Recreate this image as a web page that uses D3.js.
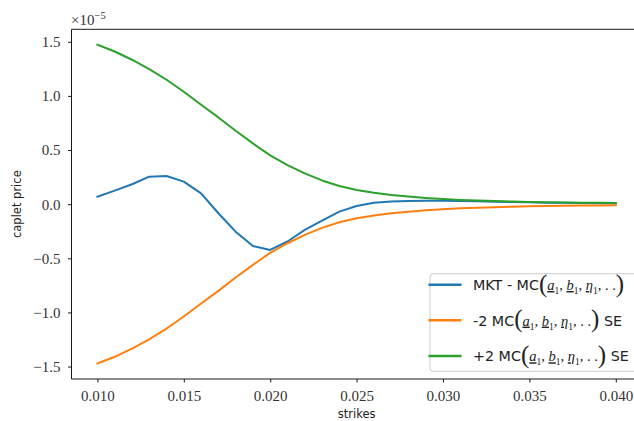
<!DOCTYPE html>
<html>
<head>
<meta charset="utf-8">
<script src="https://cdn.jsdelivr.net/npm/d3@7"></script>
<style>
  body { margin: 0; background: #fff; }
  svg { display: block; }
</style>
</head>
<body>
<div id="chart"></div>
<script>
"use strict";

// strikes (x) and caplet price series, in units of 1e-5
const strikes = [0.010, 0.011, 0.012, 0.013, 0.014, 0.015, 0.016, 0.017, 0.018, 0.019,
                 0.020, 0.021, 0.022, 0.023, 0.024, 0.025, 0.026, 0.027, 0.028, 0.029,
                 0.030, 0.031, 0.032, 0.033, 0.034, 0.035, 0.036, 0.037, 0.038, 0.039, 0.040];

const mktMinusMc = [0.069, 0.125, 0.184, 0.254, 0.260, 0.208, 0.100, -0.084, -0.254, -0.386,
                    -0.423, -0.345, -0.238, -0.152, -0.069, -0.017, 0.012, 0.025, 0.030, 0.032,
                    0.031, 0.029, 0.026, 0.023, 0.020, 0.017, 0.014, 0.012, 0.010, 0.009, 0.008];

const minus2Se = [-1.472, -1.410, -1.334, -1.248, -1.149, -1.038, -0.918, -0.801, -0.678, -0.561,
                  -0.450, -0.361, -0.284, -0.219, -0.167, -0.131, -0.105, -0.085, -0.070, -0.057,
                  -0.047, -0.039, -0.033, -0.028, -0.024, -0.020, -0.017, -0.015, -0.013, -0.012, -0.011];

const plus2Se = [1.472, 1.410, 1.334, 1.248, 1.149, 1.038, 0.918, 0.801, 0.678, 0.561,
                 0.450, 0.361, 0.284, 0.219, 0.167, 0.131, 0.105, 0.085, 0.070, 0.057,
                 0.047, 0.039, 0.033, 0.028, 0.024, 0.020, 0.017, 0.015, 0.013, 0.012, 0.011];

const xTicks = [0.010, 0.015, 0.020, 0.025, 0.030, 0.035, 0.040];
const yTicks = [-1.5, -1.0, -0.5, 0.0, 0.5, 1.0, 1.5];

// legend: text before and after the MC(a1, b1, eta1, ..) term
const legendPrefix = ["MKT - MC", "-2 MC", "+2 MC"];
const legendSuffix = ["", " SE", " SE"];

const seriesList = [mktMinusMc, minus2Se, plus2Se];
const colors = ["#1f77b4", "#ff7f0e", "#2ca02c"];

const W = 634, H = 421;
const plotL = 71.5, plotR = 641.7, plotT = 29.3, plotB = 379;
const SERIF = "'Liberation Serif', 'DejaVu Serif', serif";
const SANS = "'DejaVu Sans', sans-serif";

const svg = d3.select("#chart").append("svg")
    .attr("width", W)
    .attr("height", H);

const x = d3.scaleLinear().domain([0.0085, 0.0415]).range([plotL, plotR]);
const y = d3.scaleLinear().domain([-1.615, 1.615]).range([plotB, plotT]);

// lines
const line = d3.line()
    .x((d, i) => x(strikes[i]))
    .y(d => y(d));

svg.append("g").selectAll("path")
    .data(seriesList)
    .enter()
    .append("path")
    .attr("d", d => line(d))
    .attr("fill", "none")
    .attr("stroke", (d, i) => colors[i])
    .attr("stroke-width", 2)
    .attr("stroke-linejoin", "round")
    .attr("stroke-linecap", "square");

// x axis
const xAxis = svg.append("g")
    .attr("transform", `translate(0,${plotB})`)
    .call(d3.axisBottom(x).tickValues(xTicks).tickSize(3.5).tickFormat(d3.format(".3f")));
xAxis.select(".domain").remove();
xAxis.selectAll("line").attr("stroke", "#000").attr("stroke-width", 0.9);
xAxis.selectAll("text")
    .attr("y", 21.5).attr("dy", null)
    .attr("fill", "#333")
    .style("font-family", SERIF).style("font-size", "15px");

// y axis
const yAxis = svg.append("g")
    .attr("transform", `translate(${plotL},0)`)
    .call(d3.axisLeft(y).tickValues(yTicks).tickSize(3.5).tickFormat(d3.format(".1f")));
yAxis.select(".domain").remove();
yAxis.selectAll("line").attr("stroke", "#000").attr("stroke-width", 0.9);
yAxis.selectAll("text")
    .attr("x", -11).attr("dy", "0.33em")
    .attr("fill", "#333")
    .style("font-family", SERIF).style("font-size", "15px");

// spines
svg.append("path")
    .attr("d", `M${plotL},${plotT}H${plotR}M${plotL},${plotT}V${plotB}H${plotR}`)
    .attr("fill", "none")
    .attr("stroke", "#000")
    .attr("stroke-width", 0.9);

// offset text
const off = svg.append("text")
    .attr("x", 71).attr("y", 25)
    .attr("fill", "#333")
    .style("font-family", SERIF).style("font-size", "15px");
off.append("tspan").text("\u00d710");
off.append("tspan").attr("dy", -6).style("font-size", "10.5px").text("\u22125");

// axis labels
svg.append("text")
    .attr("x", (plotL + plotR) / 2).attr("y", 418)
    .attr("text-anchor", "middle")
    .attr("fill", "#222")
    .style("font-family", SANS).style("font-size", "11.5px")
    .text("strikes");

svg.append("text")
    .attr("transform", `translate(21,${(plotT + plotB) / 2}) rotate(-90)`)
    .attr("text-anchor", "middle")
    .attr("fill", "#222")
    .style("font-family", SANS).style("font-size", "11.5px")
    .text("caplet price");

// legend
const legend = svg.append("g");
legend.append("rect")
    .attr("x", 430).attr("y", 273.7)
    .attr("width", 220).attr("height", 97.6)
    .attr("rx", 3)
    .attr("fill", "#fff").attr("fill-opacity", 0.8)
    .attr("stroke", "#ccc").attr("stroke-width", 1);

// pieces of MC(a1, b1, eta1, ..)
const mathParts = [
    {t: "(", big: true},
    {t: "a", it: true},
    {t: "1", sub: true},
    {t: ", "},
    {t: "b", it: true},
    {t: "1", sub: true},
    {t: ", "},
    {t: "\u03b7", it: true},
    {t: "1", sub: true},
    {t: ", . ."},
    {t: ")", big: true}
];

const rowY = [284.7, 320.3, 356];

legendPrefix.forEach(function(p, i) {
    const cy = rowY[i];
    legend.append("line")
        .attr("x1", 428.5).attr("x2", 461.5)
        .attr("y1", cy).attr("y2", cy)
        .attr("stroke", colors[i])
        .attr("stroke-width", 2.5);

    const txt = legend.append("text")
        .attr("x", 473).attr("y", cy + 5.3)
        .attr("fill", "#222")
        .style("font-family", SANS).style("font-size", "14.3px");
    txt.append("tspan").text(p);

    let shift = 0;
    mathParts.forEach(function(m) {
        const s = m.big ? 1.5 : (m.sub ? 4 : 0);
        const ts = txt.append("tspan")
            .attr("dy", s - shift)
            .style("font-family", SERIF)
            .style("font-size", m.big ? "25px" : (m.sub ? "9.5px" : "14.5px"))
            .text(m.t);
        if (m.it) ts.style("font-style", "italic").style("text-decoration", "underline");
        if (m.big) ts.style("font-weight", "300");
        shift = s;
    });
    if (legendSuffix[i]) {
        txt.append("tspan").attr("dy", -shift).text(legendSuffix[i]);
    }
});
</script>
</body>
</html>
